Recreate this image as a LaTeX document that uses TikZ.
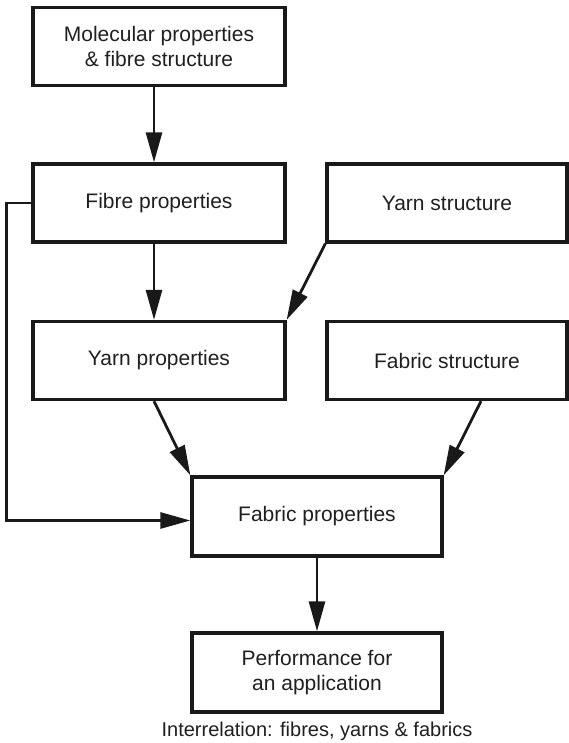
\documentclass[tikz,border=0pt]{standalone}
\usepackage{fontspec}
\setmainfont{Liberation Sans}
\usetikzlibrary{arrows.meta}
\begin{document}
\begin{tikzpicture}[x=1pt,y=-1pt,
  box/.style={draw=black!90, line width=3.3pt, minimum width=252pt, minimum height=78pt,
    inner sep=0pt, align=center, font=\fontsize{21}{25}\selectfont, text=black!88},
  rbox/.style={box, minimum width=240pt},
  arr/.style={draw=black!90, line width=2.8pt, -{Triangle[length=30pt,width=16pt]}}]
\useasboundingbox (0,0) rectangle (568,743);
\node[box] (mol) at (159,46.5) {Molecular properties\\\& fibre structure};
\node[box] (fibre) at (159,203) {Fibre properties};
\node[rbox] (ystr) at (447,203) {Yarn structure};
\node[box] (yprop) at (159,360.5) {Yarn properties};
\node[rbox] (fstr) at (447,360.5) {Fabric structure};
\node[box, minimum width=250pt, minimum height=79pt] (fprop) at (317,516.5) {Fabric properties};
\node[box, minimum width=250pt, minimum height=79pt] (perf) at (317,672.5) {Performance for\\an application};
\node[font=\fontsize{20}{24}\selectfont, text=black!88, inner sep=0pt] (cap) at (317,731) {Interrelation: fibres, yarns \& fabrics};
\draw[arr] ([xshift=-5pt]mol.south) -- ([xshift=-5pt]fibre.north);
\draw[arr] ([xshift=-5pt]fibre.south) -- ([xshift=-5pt]yprop.north);
\draw[arr] (ystr.south west) -- (yprop.north east);
\draw[arr] ([xshift=-5pt]yprop.south) -- (fprop.north west);
\draw[arr] ([xshift=34pt]fstr.south) -- (fprop.north east);
\draw[arr] (fprop.south) -- (perf.north);
\draw[arr] (fibre.west) -- ++(-25,0) |- ([yshift=-4pt]fprop.west);
\end{tikzpicture}
\end{document}
